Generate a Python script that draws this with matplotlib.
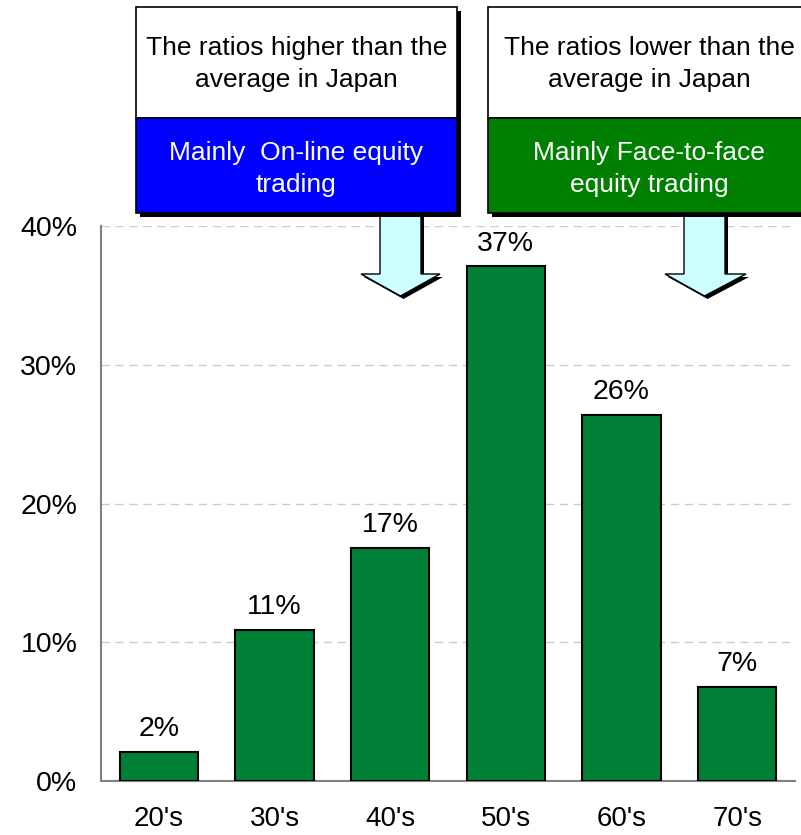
import matplotlib.pyplot as plt
from matplotlib.patches import Rectangle, Polygon

plt.rcParams['font.family'] = ['Liberation Sans', 'DejaVu Sans']

ages = ["20's", "30's", "40's", "50's", "60's", "70's"]
ratios = [2.1, 10.9, 16.8, 37.1, 26.4, 6.8]
yticks = [0, 10, 20, 30, 40]

fig = plt.figure(figsize=(8.01, 8.35), dpi=100)
W, H = 801, 835
ax = fig.add_axes([101 / W, 1 - 781 / H, 694 / W, 555 / H])

x = range(len(ages))
bars = ax.bar(x, ratios, width=0.675, color='#007F37', edgecolor='black', linewidth=1.5, zorder=3)
for b, v in zip(bars, ratios):
    ax.annotate(f"{v:.0f}%", (b.get_x() + b.get_width() / 2, v), xytext=(0, 7),
                textcoords='offset points', ha='center', va='bottom', fontsize=20.5)

ax.set_xlim(-0.5, 5.5)
ax.set_ylim(0, 40)
ax.set_yticks(yticks)
ax.set_yticklabels([f"{t}%" for t in yticks], fontsize=20.5)
ax.set_xticks(list(x))
ax.set_xticklabels(ages, fontsize=20)
ax.tick_params(axis='both', length=0)
ax.tick_params(axis='y', pad=17)
ax.tick_params(axis='x', pad=18)
ax.yaxis.grid(True, linestyle=(0, (6, 4)), color='#cccccc', linewidth=1, zorder=0)
for s in ['top', 'right']:
    ax.spines[s].set_visible(False)
for s in ['left', 'bottom']:
    ax.spines[s].set_color('#808080')
    ax.spines[s].set_linewidth(1.5)

# overlay in pixel coordinates for the callout boxes and arrows
ov = fig.add_axes([0, 0, 1, 1], zorder=5)
ov.set_xlim(0, W)
ov.set_ylim(H, 0)
ov.axis('off')


def callout(x0, x1, top, mid, bottom, color, head, sub):
    ov.add_patch(Rectangle((x0 + 4, top + 4), x1 - x0, bottom - top, facecolor='black', edgecolor='none'))
    ov.add_patch(Rectangle((x0, top), x1 - x0, mid - top, facecolor='white', edgecolor='black', linewidth=1.2))
    ov.add_patch(Rectangle((x0, mid), x1 - x0, bottom - mid, facecolor=color, edgecolor='black', linewidth=1.2))
    cx = (x0 + x1) / 2
    ov.text(cx, 64, head, ha='center', va='center', fontsize=19, linespacing=1.38)
    ov.text(cx, 169, sub, ha='center', va='center', fontsize=19, color='white', linespacing=1.38)


def arrow(sx0, sx1, y0, yneck, hx0, hx1, ytip):
    tip = (sx0 + sx1) / 2
    pts = [(sx0, y0), (sx1, y0), (sx1, yneck), (hx1, yneck), (tip, ytip), (hx0, yneck), (sx0, yneck)]
    ov.add_patch(Polygon([(px + 3, py + 3) for px, py in pts], closed=True, facecolor='black', edgecolor='none'))
    ov.add_patch(Polygon(pts, closed=True, facecolor='#CCFFFF', edgecolor='black', linewidth=1))


arrow(380, 421, 214, 274, 361, 440, 296)
arrow(684, 725, 214, 274, 665, 746, 296)
callout(136, 457, 7, 118, 213, '#0000FF',
        'The ratios higher than the\naverage in Japan', 'Mainly  On-line equity\ntrading')
callout(488, 810, 7, 118, 213, '#008000',
        'The ratios lower than the\naverage in Japan', 'Mainly Face-to-face\nequity trading')

fig.savefig('out.png', dpi=100)
